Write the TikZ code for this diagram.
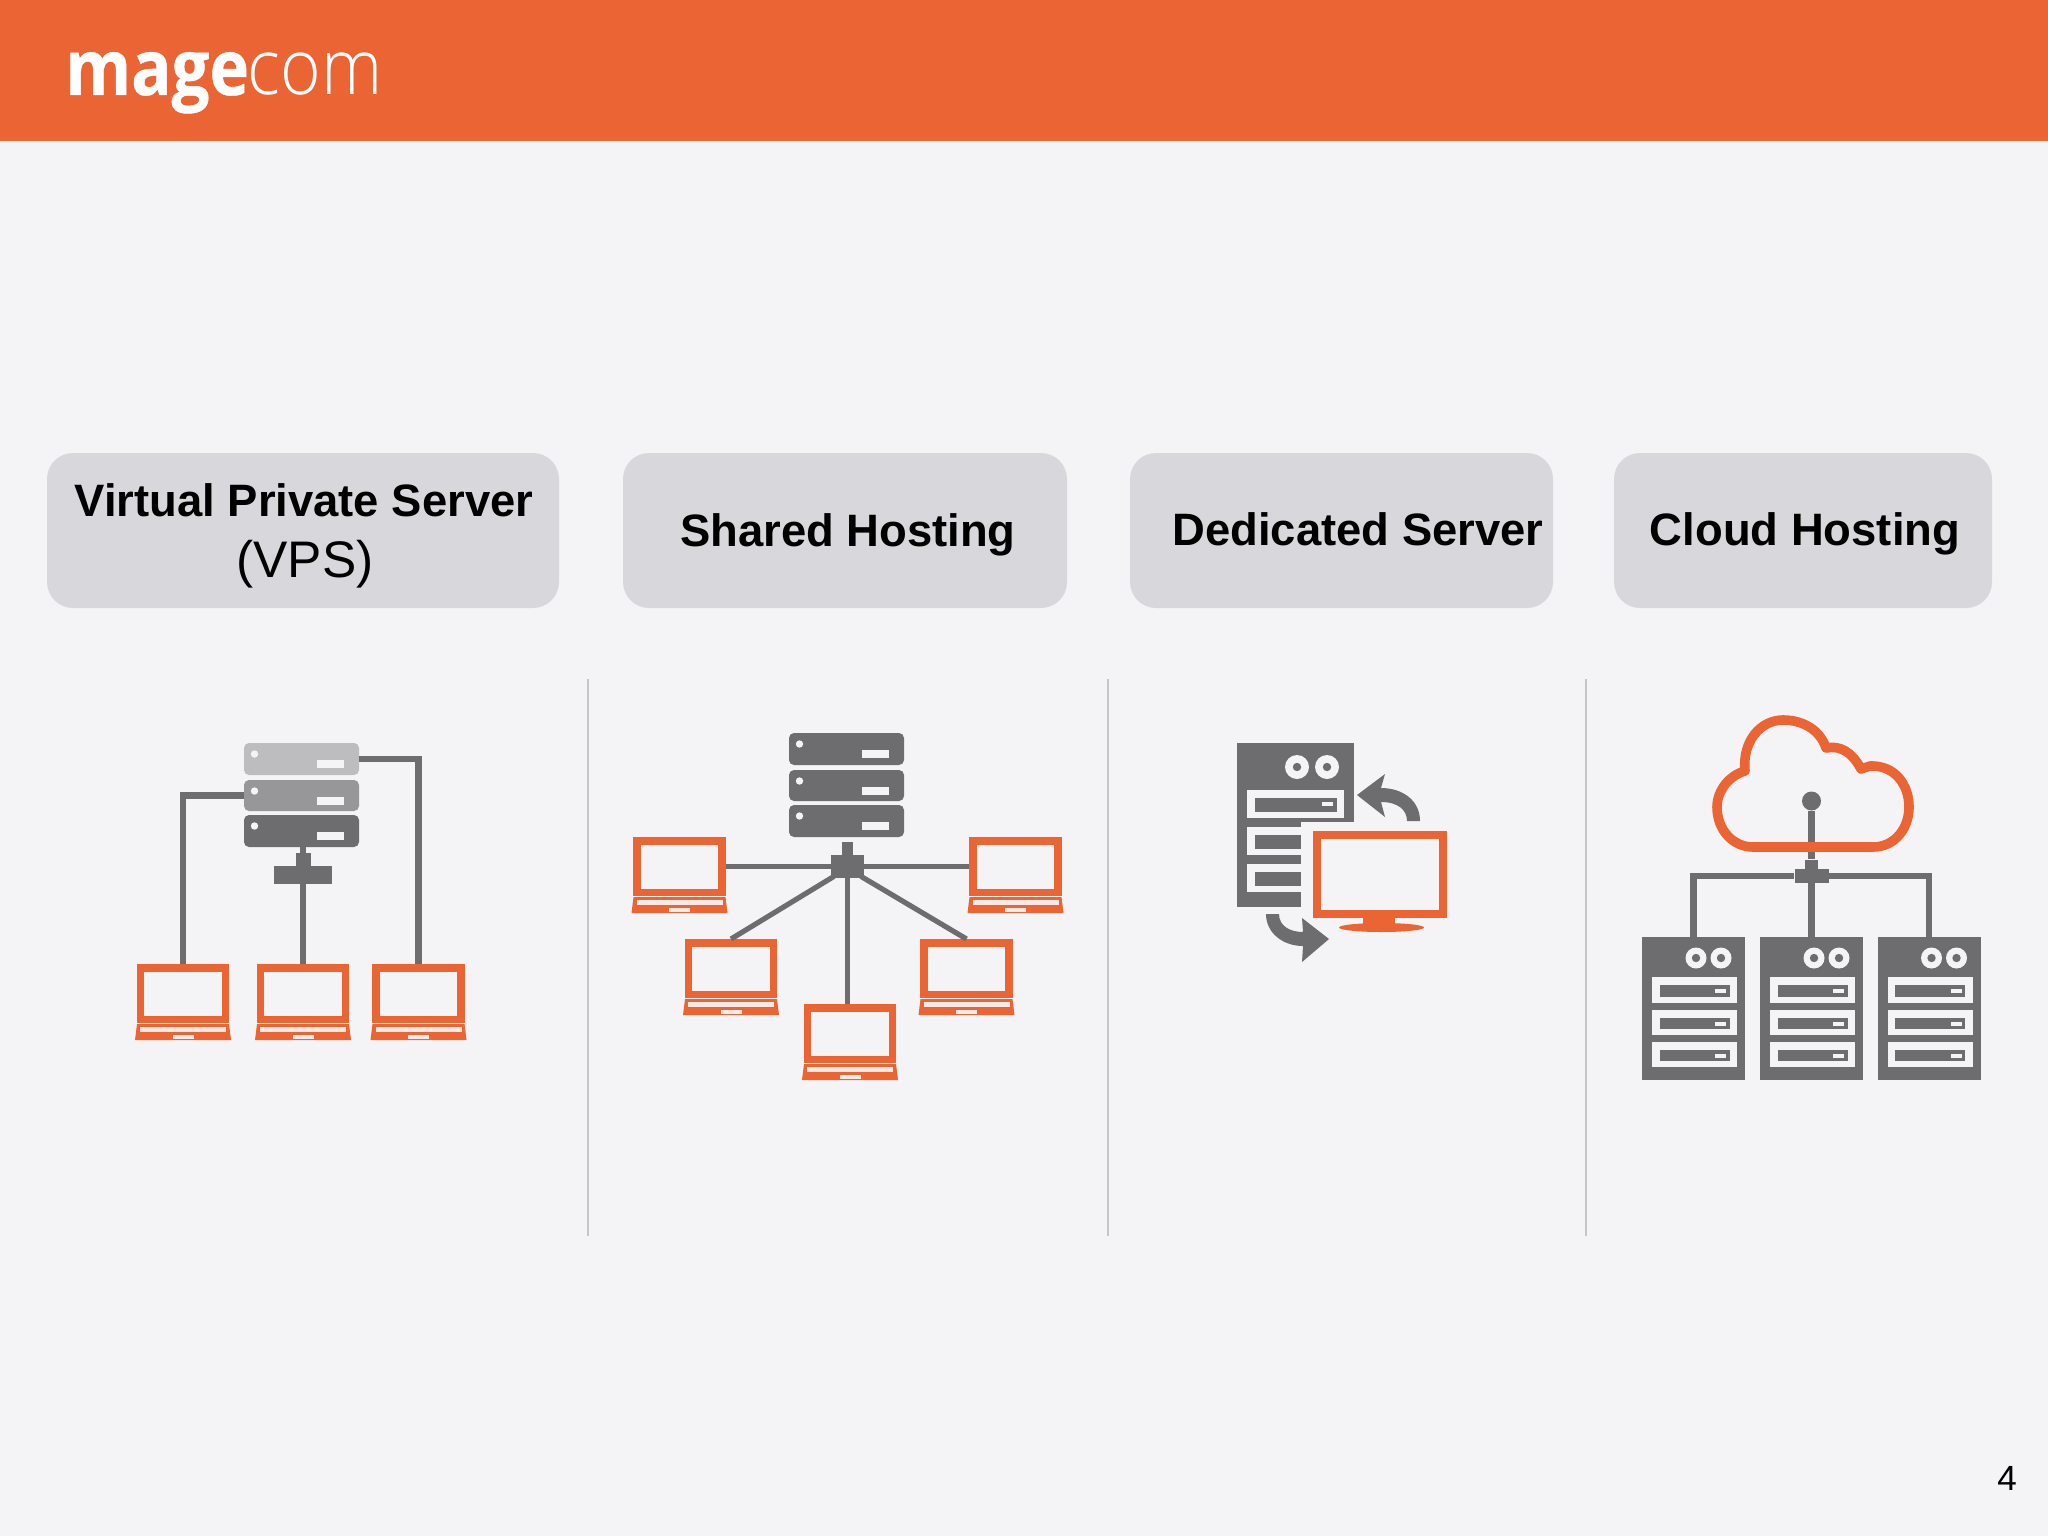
\documentclass[tikz,border=0pt]{standalone}
\usepackage{fontspec}
\setmainfont{Liberation Sans}
\newfontfamily\logobold[FakeStretch=0.87,FakeBold=0.6]{Open Sans Bold}
\newfontfamily\logolight[FakeStretch=0.90]{Open Sans Light}
\definecolor{brand}{HTML}{EA6434}
\definecolor{paper}{HTML}{F4F4F6}
\definecolor{slate}{HTML}{6D6C6F}
\definecolor{boxgrey}{HTML}{D8D7DB}
\definecolor{rule}{HTML}{C6C6C8}
\definecolor{srvlight}{HTML}{BDBCBE}
\definecolor{srvmid}{HTML}{979698}
\tikzset{
  greybox/.style={rectangle,rounded corners=13pt,fill=boxgrey,inner sep=0pt},
  boldlabel/.style={anchor=base,font=\fontsize{22.7}{27}\selectfont\bfseries,text=black,inner sep=0pt},
  plainlabel/.style={anchor=base,font=\fontsize{25.7}{30}\selectfont,text=black,inner sep=0pt},
  divider/.style={draw=rule,line width=1.1pt},
  laptopscreen/.style={rectangle,draw=brand,line width=3.75pt,fill=paper,minimum width=42.5pt,minimum height=25.75pt,inner sep=0pt},
  srvbox/.style={rectangle,rounded corners=2.5pt,minimum width=57.5pt,minimum height=16pt,inner sep=0pt},
  hubbox/.style={rectangle,fill=slate,inner sep=0pt},
  wire/.style={draw=slate,line width=3.3pt},
  thinwire/.style={draw=slate,line width=2.6pt,shorten <=-2pt},
  towerbox/.style={rectangle,fill=slate,inner sep=0pt},
}
% name, centre x, top y
\newcommand\laptopicon[3]{%
  \node[laptopscreen] (#1) at (#2,#3+29.5) {};
  \begin{scope}[shift={(#2,#3)}]
    \fill[brand] (-46,60) -- (46,60) -- (48,76) -- (-48,76) -- cycle;
    \fill[paper!92!brand] (-43,63) rectangle (43,68);
    \fill[paper!92!brand] (-10.5,70.5) rectangle (10.5,75);
  \end{scope}}
% name, left x, top y, height, colour
\newcommand\srvunit[5]{%
  \node[srvbox,fill=#5,minimum height=#4*0.5pt] (#1) at (#2+57.5,#3+#4/2) {};
  \fill[paper] (#2+10.5,#3+11) circle (3.7);
  \fill[paper] (#2+73,#3+17) rectangle (#2+100,#3+25);}
% disks at centre x,y with radius
\newcommand\diskpair[4]{%
  \fill[paper] (#1,#3) circle (#4) (#2,#3) circle (#4);
  \fill[slate] (#1,#3) circle (4.2) (#2,#3) circle (4.2);}
% bay: left,right,top,bottom of outer box
\newcommand\drivebay[4]{%
  \fill[paper] (#1,#3) rectangle (#2,#4);
  \fill[slate] (#1+7.5,#3+7.5) rectangle (#2-7.5,#4-6.5);
  \fill[paper] (#2-22,#3+12) rectangle (#2-11,#3+15.5);}
% name, left x
\newcommand\cloudrack[2]{%
  \node[towerbox,minimum width=51.5pt,minimum height=71.5pt] (#1) at (#2+51.5,1008.5) {};
  \diskpair{#2+54}{#2+79}{958}{10.5}
  \drivebay{#2+10}{#2+95}{977}{1003}
  \drivebay{#2+10}{#2+95}{1010}{1035}
  \drivebay{#2+10}{#2+95}{1042}{1067}}
\begin{document}
\begin{tikzpicture}[x=0.5pt,y=-0.5pt]
\path[use as bounding box,fill=paper] (0,0) rectangle (2048,1535.8);
% header
\fill[brand] (0,0) rectangle (2048,141);
\node[anchor=base west,inner sep=0pt,text=white] (logo) at (65,95)
  {\fontsize{38.5}{44}\selectfont{\logobold mage}\hspace{-0.6pt}{\logolight com}};
% header boxes
\node[greybox,minimum width=256pt,minimum height=77.5pt] (boxa) at (303,530.5) {};
\node[greybox,minimum width=222pt,minimum height=77.5pt] (boxb) at (845,530.5) {};
\node[greybox,minimum width=211.5pt,minimum height=77.5pt] (boxc) at (1341.5,530.5) {};
\node[greybox,minimum width=189pt,minimum height=77.5pt] (boxd) at (1803,530.5) {};
\node[boldlabel] (laba) at (304,516) {Virtual Private Server};
\node[plainlabel] (labaa) at (305,577) {(VPS)};
\node[boldlabel] (labb) at (848,546) {Shared Hosting};
\node[boldlabel] (labc) at (1358,545) {Dedicated Server};
\node[boldlabel] (labd) at (1805,545) {Cloud Hosting};
% dividers
\coordinate (da1) at (588,679); \coordinate (da2) at (588,1236);
\coordinate (db1) at (1108,679); \coordinate (db2) at (1108,1236);
\coordinate (dc1) at (1586,679); \coordinate (dc2) at (1586,1236);
\draw[divider] (da1) -- (da2);
\draw[divider] (db1) -- (db2);
\draw[divider] (dc1) -- (dc2);
% === VPS ===
\srvunit{va}{244}{743}{32}{srvlight}
\srvunit{vb}{244}{780}{31}{srvmid}
\srvunit{vc}{244}{815}{32}{slate}
\node[hubbox,minimum width=7.5pt,minimum height=6.5pt] (vstem) at (303,859.5) {};
\node[hubbox,minimum width=29pt,minimum height=9pt] (vhub) at (303,875) {};
\laptopicon{la}{183}{964}
\laptopicon{lb}{303}{964}
\laptopicon{lc}{418.5}{964}
\draw[wire] (va.east) -| (lc.north);
\draw[wire] (vb.west) -| (la.north);
\draw[wire] (vstem.north) -- (vstem.north |- vc.south);
\draw[wire] (vhub.south) -- (lb.north);
% === Shared ===
\srvunit{sa}{789}{733}{32}{slate}
\srvunit{sb}{789}{770}{31}{slate}
\srvunit{sc}{789}{805}{32}{slate}
\node[hubbox,minimum width=5.75pt,minimum height=6.5pt] (stem) at (847.5,848.5) {};
\node[hubbox,minimum width=16.5pt,minimum height=11.5pt] (shub) at (847.5,866.5) {};
\laptopicon{sl}{679.5}{837}
\laptopicon{sr}{1015.5}{837}
\laptopicon{sll}{731}{939}
\laptopicon{slr}{966.5}{939}
\laptopicon{slb}{850}{1004}
\draw[thinwire] (shub.west) -- (sl.east);
\draw[thinwire] (shub.east) -- (sr.west);
\draw[thinwire] (shub.south west) -- (sll.north);
\draw[thinwire] (shub.south east) -- (slr.north);
\draw[thinwire] (shub.south) -- (shub.south |- slb.north);
% === Dedicated ===
\node[towerbox,minimum width=58.5pt,minimum height=82pt] (tower) at (1295.5,825) {};
\diskpair{1297}{1327}{767}{12}
\drivebay{1247}{1344}{790}{818}
\drivebay{1247}{1344}{827}{855}
\drivebay{1247}{1344}{864}{892}
\fill[paper] (1301,822) rectangle (1362,912);
\fill[brand] (1363,915) rectangle (1395,927);
\fill[brand] (1381.5,927.5) ellipse (42.5 and 4.5);
\node[rectangle,draw=brand,line width=4pt,fill=paper,minimum width=63pt,minimum height=39.5pt,inner sep=0pt] (monitor) at (1379.5,874.5) {};
\fill[slate] (1357,795) -- (1385,774) -- (1381,788)
  .. controls (1402,788) and (1420,800) .. (1420,821) -- (1407,821)
  .. controls (1407,810) and (1398,802) .. (1381,802) -- (1385,817) -- cycle;
\fill[slate] (1329,939) -- (1302,918) -- (1303,932)
  .. controls (1290,932) and (1279,926) .. (1279,914) -- (1266,914)
  .. controls (1266,933) and (1283,946) .. (1303,946) -- (1302,962) -- cycle;
% === Cloud ===
\node[circle,fill=slate,minimum size=9.5pt,inner sep=0pt] (cdot) at (1811.5,801) {};
\node[hubbox,minimum width=6.5pt,minimum height=5pt] (cstem) at (1811.5,864.5) {};
\node[hubbox,minimum width=17pt,minimum height=7pt] (chub) at (1811.5,876) {};
\cloudrack{ra}{1642}
\cloudrack{rb}{1760}
\cloudrack{rc}{1877.5}
\draw[wire] (cdot) -- (cstem.north);
\draw[brand,line width=4.8pt,line join=round]
  (1753,847) -- (1873,847) .. controls (1895,847) and (1909,828) .. (1909,807)
  .. controls (1909,785) and (1895,765) .. (1870,766) -- (1861,769)
  .. controls (1852,752) and (1840,745) .. (1826,748)
  .. controls (1820,730) and (1803,720) .. (1783,720)
  .. controls (1760,720) and (1742,742) .. (1745,771)
  .. controls (1730,775) and (1717,790) .. (1717,807)
  .. controls (1717,830) and (1733,847) .. (1753,847) -- cycle;
\draw[wire] (chub.west) -| (ra.north);
\draw[wire] (chub.east) -| (rc.north);
\draw[wire] (chub.south) -- (rb.north);
% page number
\node[inner sep=0pt,font=\fontsize{17.5}{21}\selectfont,text=black] (pageno) at (2007,1478) {4};
\end{tikzpicture}
\end{document}
